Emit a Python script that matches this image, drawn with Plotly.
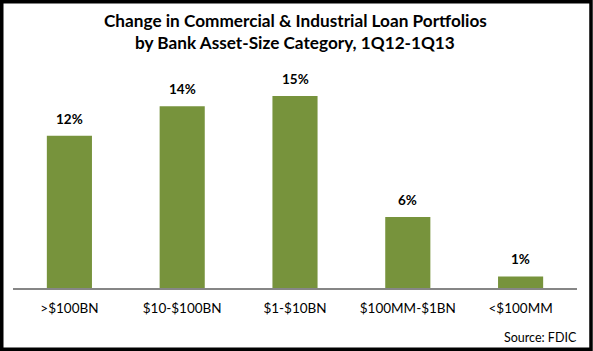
import plotly.graph_objects as go

categories = [">$100BN", "$10-$100BN", "$1-$10BN", "$100MM-$1BN", "<$100MM"]
values = [11.9, 14.2, 15.0, 5.55, 0.9]
labels = ["12%", "14%", "15%", "6%", "1%"]

title_lines = ["Change in Commercial & Industrial Loan Portfolios",
               "by Bank Asset-Size Category, 1Q12-1Q13"]
source_text = "Source: FDIC"

W, H = 593, 351
ml, mr, mt, mb = 13, 16, 70, 63
pw, ph = W - ml - mr, H - mt - mb

def px_to_paper_x(px):
    return (px - ml) / pw

def px_to_paper_y(py):
    return (H - mb - py) / ph

FONT = "Lato, 'Open Sans', sans-serif"

fig = go.Figure()
fig.add_trace(go.Bar(x=categories, y=values, marker=dict(color="#77933C", line=dict(width=0)),
                     hoverinfo="skip"))

annotations = []
for c, v, t in zip(categories, values, labels):
    annotations.append(dict(x=c, y=v, text="<b>%s</b>" % t, showarrow=False,
                            xref="x", yref="y", yanchor="middle", yshift=17,
                            font=dict(family=FONT, size=13.5, color="#000000")))
annotations.append(dict(x=px_to_paper_x(579), y=px_to_paper_y(337), xref="paper", yref="paper",
                        text=source_text, showarrow=False, xanchor="right", yanchor="middle",
                        font=dict(family=FONT, size=12.5, color="#000000")))
for i, line in enumerate(title_lines):
    annotations.append(dict(x=0.5, y=px_to_paper_y(20 + 22 * i), xref="paper", yref="paper",
                            text="<b>%s</b>" % line, showarrow=False, xanchor="center", yanchor="middle",
                            font=dict(family=FONT, size=17.2, color="#000000")))

shapes = [dict(type="rect", xref="paper", yref="paper",
               x0=px_to_paper_x(1.75), x1=px_to_paper_x(W - 2), y0=px_to_paper_y(H - 1.75), y1=px_to_paper_y(1.75),
               line=dict(color="#000000", width=3.5), fillcolor="rgba(0,0,0,0)", layer="above")]

fig.update_layout(
    width=W, height=H,
    margin=dict(l=ml, r=mr, t=mt, b=mb, pad=0),
    paper_bgcolor="white", plot_bgcolor="white",
    bargap=0.6, showlegend=False,
    annotations=annotations, shapes=shapes,
    xaxis=dict(showline=True, linecolor="#868686", linewidth=1.5, ticks="", showgrid=False,
               ticklabelstandoff=7,
               tickfont=dict(family=FONT, size=13.5, color="#000000"), fixedrange=True),
    yaxis=dict(range=[0, ph / 12.8], visible=False, showgrid=False, zeroline=False, fixedrange=True),
)

fig.write_html("out.html", config={"displayModeBar": False})
